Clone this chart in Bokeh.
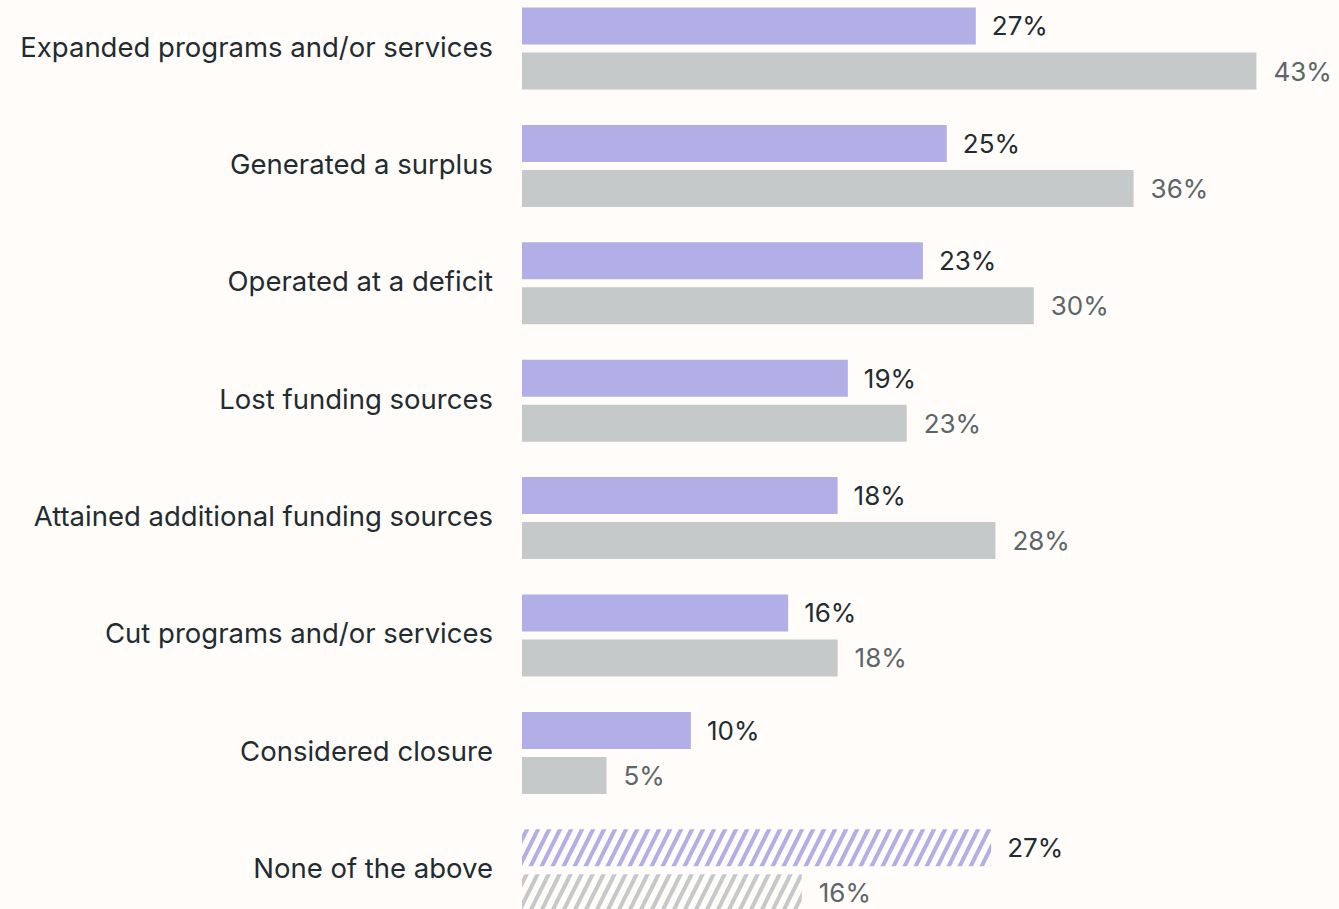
from bokeh.plotting import figure
from bokeh.models import ColumnDataSource, Range1d
from bokeh.transform import dodge
from bokeh.core.properties import value
from bokeh.embed import file_html
from bokeh.resources import INLINE

categories = [
    "Expanded programs and/or services",
    "Generated a surplus",
    "Operated at a deficit",
    "Lost funding sources",
    "Attained additional funding sources",
    "Cut programs and/or services",
    "Considered closure",
    "None of the above",
]
# bar lengths (percent), and their printed labels
current = [26.6, 24.9, 23.5, 19.1, 18.5, 15.6, 9.9, 27.5]
prior = [43.05, 35.85, 30.0, 22.55, 27.75, 18.5, 4.95, 16.4]
current_labels = ["27%", "25%", "23%", "19%", "18%", "16%", "10%", "27%"]
prior_labels = ["43%", "36%", "30%", "23%", "28%", "18%", "5%", "16%"]
hatched = [False, False, False, False, False, False, False, True]

PURPLE = "#b1afe6"
GRAY = "#c6c9c9"
BG = "#fffcf9"
DARK = "#1f2c31"
MID = "#5b6669"
FONT = "Inter"

idx = list(range(len(categories)))

def make_source(vals, labels, color):
    return ColumnDataSource(dict(
        idx=idx,
        cat=categories,
        val=vals,
        label=labels,
        fill=[color] * len(vals),
        falpha=[0.0 if h else 1.0 for h in hatched],
        hatch=["/" if h else " " for h in hatched],
    ))

src_cur = make_source(current, current_labels, PURPLE)
src_pri = make_source(prior, prior_labels, GRAY)

p = figure(width=1339, height=909, output_backend="svg", toolbar_location=None,
           x_range=Range1d(-30.57, 47.92), y_range=Range1d(7.334, -0.4089),
           min_border=0, background_fill_color=BG, border_fill_color=BG,
           outline_line_color=None)
p.axis.visible = False
p.grid.visible = False

off = 0.1917
h = 0.315

p.hbar(y=dodge("idx", -off, range=p.y_range), left=0, right="val", height=h,
       source=src_cur, fill_color="fill", fill_alpha="falpha", line_color=None,
       hatch_pattern="hatch", hatch_color=PURPLE, hatch_scale=22, hatch_weight=4)
p.hbar(y=dodge("idx", off, range=p.y_range), left=0, right="val", height=h,
       source=src_pri, fill_color="fill", fill_alpha="falpha", line_color=None,
       hatch_pattern="hatch", hatch_color=GRAY, hatch_scale=22, hatch_weight=4)

p.text(x="val", y=dodge("idx", -off, range=p.y_range), text="label", source=src_cur,
       x_offset=16, text_align="left", text_baseline="middle",
       text_font=value(FONT), text_font_size="26px", text_color=DARK)
p.text(x="val", y=dodge("idx", off, range=p.y_range), text="label", source=src_pri,
       x_offset=17, text_align="left", text_baseline="middle",
       text_font=value(FONT), text_font_size="26px", text_color=MID)

p.text(x=0, y="idx", text="cat", source=src_cur, x_offset=-29, y_offset=-2,
       text_align="right", text_baseline="middle",
       text_font=value(FONT), text_font_size="27.5px", text_color=DARK)

open("out.html", "w").write(file_html(p, INLINE))
